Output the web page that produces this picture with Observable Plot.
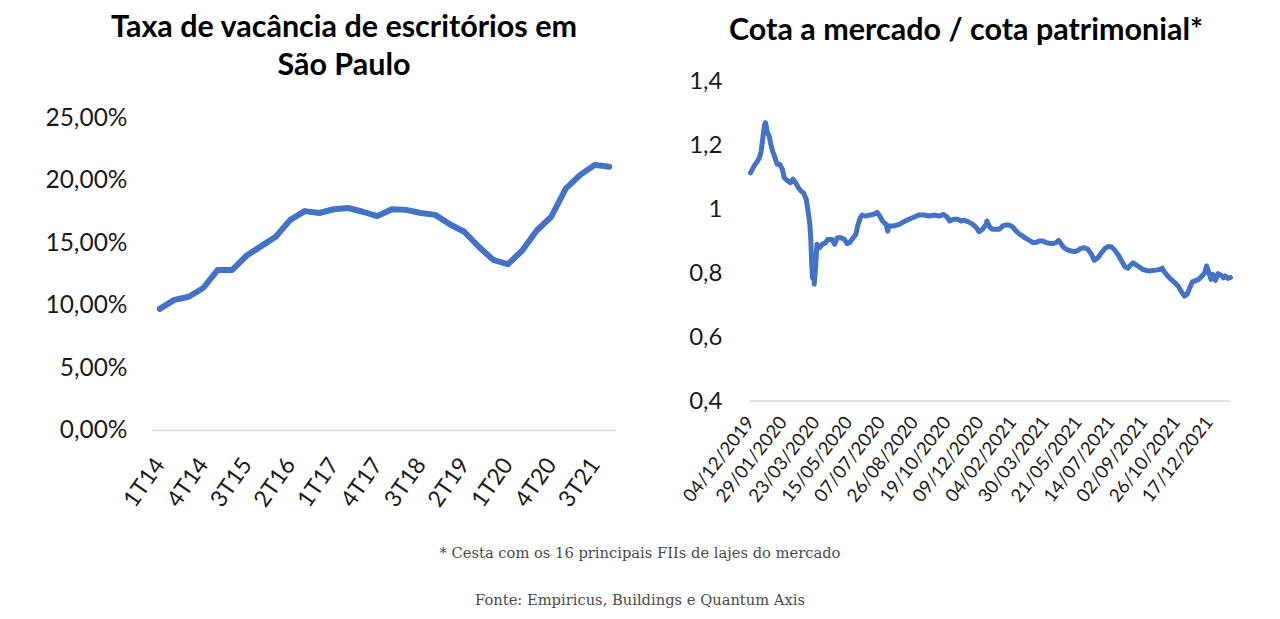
<!DOCTYPE html>
<html><head><meta charset="utf-8">
<script src="https://cdn.jsdelivr.net/npm/d3@7"></script>
<script src="https://cdn.jsdelivr.net/npm/@observablehq/plot@0.6"></script>
<style>
body{margin:0;background:#fff;}
#page{position:relative;width:1280px;height:619px;overflow:hidden;font-family:Lato, sans-serif;background:#fff;}
.title{position:absolute;font-weight:bold;font-size:30.5px;color:#000;text-align:center;line-height:38px;font-family:Lato, sans-serif;white-space:nowrap;}
.cap{position:absolute;left:0;width:1280px;text-align:center;font-family:"DejaVu Serif", serif;font-size:14.7px;color:#4a4a4a;line-height:18px;}
#left{position:absolute;left:0;top:0;}
#right{position:absolute;left:640px;top:0;}
</style></head>
<body><div id="page">
<div class="title" style="left:44px;width:600px;top:6px;">Taxa de vacância de escritórios em<br>São Paulo</div>
<div class="title" style="left:666px;width:600px;top:9px;">Cota a mercado / cota patrimonial*</div>
<div id="left"></div><div id="right"></div>
<div class="cap" style="top:544px">* Cesta com os 16 principais FIIs de lajes do mercado</div>
<div class="cap" style="top:591px">Fonte: Empiricus, Buildings e Quantum Axis</div>
</div>
<script>
// ---- Left chart data ----
const quarters = ["1T14","2T14","3T14","4T14","1T15","2T15","3T15","4T15","1T16","2T16","3T16","4T16","1T17","2T17","3T17","4T17","1T18","2T18","3T18","4T18","1T19","2T19","3T19","4T19","1T20","2T20","3T20","4T20","1T21","2T21","3T21","4T21"];
const vacancy = [9.73,10.45,10.7,11.4,12.85,12.85,14.0,14.75,15.5,16.85,17.55,17.4,17.7,17.8,17.5,17.15,17.7,17.65,17.4,17.25,16.5,15.9,14.7,13.65,13.3,14.4,16.0,17.1,19.35,20.45,21.25,21.1];
const leftXTicks = ["1T14","4T14","3T15","2T16","1T17","4T17","3T18","2T19","1T20","4T20","3T21"];
const leftYTicks = [0,5,10,15,20,25];

// ---- Right chart data ----
const dayIdx = [0,4,8,10,12,14,16,17,19,21,23,25,27,30,33,36,38,42,45,48,51,54,57,60,63,65,67,68,69,70,71,72,74,75,78,81,85,87,92,95,98,102,106,109,112,116,119,121,124,126,130,134,136,140,143,146,149,153,155,156,162,168,173,179,185,190,196,202,207,213,218,222,225,229,234,238,241,246,251,255,258,262,266,267,270,273,277,281,285,288,292,296,300,304,307,311,315,319,322,326,330,334,337,341,345,348,351,354,358,362,366,370,373,377,381,385,388,390,393,396,400,404,408,412,416,419,423,426,429,432,436,439,443,447,451,454,458,462,465,468,471,475,479,483,486,490,493,496,499,502,506,510,513,515,517,520,522,525,528,531,534,536,539,542];
const ratio = [1.113,1.134,1.15,1.16,1.18,1.223,1.265,1.27,1.24,1.228,1.202,1.18,1.166,1.14,1.14,1.124,1.098,1.088,1.082,1.093,1.082,1.067,1.056,1.05,1.03,0.994,0.952,0.91,0.84,0.785,0.806,0.765,0.84,0.89,0.879,0.89,0.895,0.905,0.905,0.89,0.91,0.91,0.905,0.892,0.895,0.91,0.921,0.947,0.973,0.981,0.978,0.981,0.981,0.985,0.989,0.978,0.9625,0.952,0.931,0.947,0.947,0.952,0.96,0.968,0.975,0.981,0.981,0.978,0.981,0.978,0.983,0.975,0.9625,0.968,0.968,0.9625,0.965,0.96,0.952,0.942,0.929,0.937,0.952,0.9625,0.944,0.937,0.937,0.937,0.947,0.95,0.95,0.944,0.931,0.921,0.916,0.908,0.902,0.895,0.895,0.9,0.9,0.895,0.893,0.892,0.895,0.902,0.89,0.879,0.872,0.869,0.867,0.871,0.877,0.879,0.874,0.858,0.84,0.843,0.85,0.862,0.876,0.883,0.881,0.869,0.853,0.8375,0.819,0.815,0.824,0.832,0.824,0.819,0.811,0.808,0.806,0.808,0.809,0.811,0.815,0.801,0.791,0.78,0.77,0.759,0.744,0.728,0.733,0.754,0.773,0.775,0.78,0.791,0.801,0.822,0.806,0.78,0.796,0.777,0.798,0.794,0.785,0.791,0.783,0.786];
const dateLabels = ["04/12/2019","29/01/2020","23/03/2020","15/05/2020","07/07/2020","26/08/2020","19/10/2020","09/12/2020","04/02/2021","30/03/2021","21/05/2021","14/07/2021","02/09/2021","26/10/2021","17/12/2021"];
const labelStep = 37;
const rightYTicks = [0.4,0.6,0.8,1.0,1.2,1.4];

const blue = "#4472c4";
const axisColor = "#d9d9d9";
const textColor = "#1a1a1a";

const qIndex = quarters.map((_, i) => i);

const left = Plot.plot({
  width: 640, height: 530,
  marginLeft: 152, marginRight: 24, marginTop: 117.5, marginBottom: 100,
  style: {fontFamily: "Lato, sans-serif", fontSize: "24px", color: textColor, background: "transparent", overflow: "visible"},
  x: {domain: [-0.5, quarters.length - 0.5], axis: null},
  y: {domain: [0, 25], axis: null},
  marks: [
    Plot.ruleY([0], {stroke: axisColor, strokeWidth: 1.5}),
    Plot.axisY({ticks: leftYTicks, tickSize: 0, tickPadding: 25, fontSize: 24.5, fill: textColor,
      tickFormat: d => d.toFixed(2).replace(".", ",") + "%"}),
    Plot.axisX({ticks: leftXTicks.map(t => quarters.indexOf(t)), tickSize: 0, tickPadding: 30, tickRotate: -55, fontSize: 23, fill: textColor,
      tickFormat: i => quarters[i]}),
    Plot.lineY(vacancy, {x: qIndex, y: vacancy, stroke: blue, strokeWidth: 6, strokeLinejoin: "round", strokeLinecap: "round"})
  ]
});
document.getElementById("left").appendChild(left);

const right = Plot.plot({
  width: 640, height: 530,
  marginLeft: 110, marginRight: 50, marginTop: 80.5, marginBottom: 129.5,
  style: {fontFamily: "Lato, sans-serif", fontSize: "24px", color: textColor, background: "transparent", overflow: "visible"},
  x: {domain: [0, 542], axis: null},
  y: {domain: [0.4, 1.4], axis: null},
  marks: [
    Plot.ruleY([0.4], {stroke: axisColor, strokeWidth: 1.5}),
    Plot.axisY({ticks: rightYTicks, tickSize: 0, tickPadding: 28, fontSize: 24, fill: textColor,
      tickFormat: d => String(+d.toFixed(1)).replace(".", ",")}),
    Plot.axisX({ticks: dateLabels.map((_, i) => i * labelStep), tickSize: 0, tickPadding: 18, tickRotate: -52, fontSize: 18.5, fill: textColor,
      tickFormat: d => dateLabels[Math.round(d / labelStep)]}),
    Plot.lineY(ratio, {x: dayIdx, y: ratio, stroke: blue, strokeWidth: 5, strokeLinejoin: "round", strokeLinecap: "round"})
  ]
});
document.getElementById("right").appendChild(right);
</script>
</body></html>
